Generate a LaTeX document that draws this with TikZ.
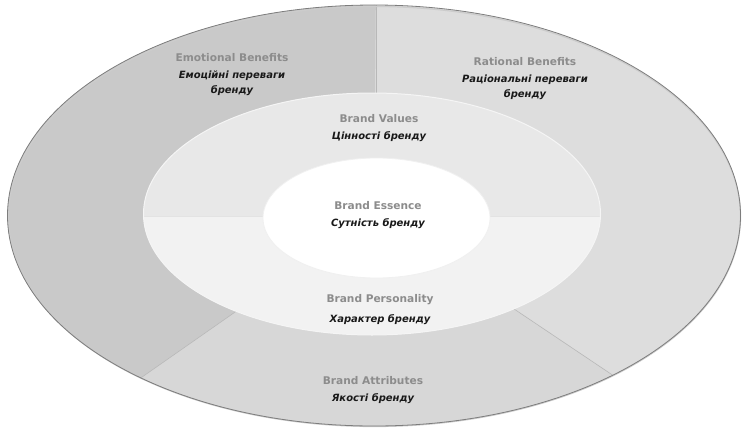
\documentclass[tikz,border=0pt]{standalone}
\usepackage{fontspec}
\setmainfont{DejaVu Sans}[ItalicFont={DejaVu Sans Oblique},BoldItalicFont={DejaVu Sans Bold Oblique}]
\usetikzlibrary{positioning}
\definecolor{emocol}{RGB}{201,201,201}
\definecolor{ratcol}{RGB}{221,221,221}
\definecolor{attcol}{RGB}{215,215,215}
\definecolor{valcol}{RGB}{232,232,232}
\definecolor{percol}{RGB}{242,242,242}
\definecolor{divgray}{RGB}{184,184,184}
\definecolor{rimgray}{RGB}{125,125,125}
\definecolor{titlegray}{RGB}{140,140,140}

\begin{document}
\begin{tikzpicture}[x=1pt,y=-1pt,
  entitle/.style={inner sep=0pt,font=\fontsize{10.6}{12}\selectfont\bfseries,text=titlegray},
  uatext/.style={inner sep=0pt,align=center,font=\fontsize{10}{15}\selectfont\bfseries\itshape,text=black!90},
  divider/.style={draw=divgray,line width=0.6pt}
]
\useasboundingbox (0,0) rectangle (743,428);

% Outer ring: three sectors
\begin{scope}
  \clip (374,215.5) ellipse [x radius=366.5pt, y radius=210.5pt];
  \fill[ratcol] (0,0) rectangle (743,428);
  \fill[emocol] (374,215) -- (376,-20) -- (-40,-20) -- (-64,521) -- cycle;
  \fill[attcol] (374,215) -- (-64,521) -- (830,521) -- cycle;
  \draw[divider] (374,215) -- (-64,521);
  \draw[divider] (374,215) -- (830,521);
  \draw[divider] (376,215) -- (376,-20);
\end{scope}
\draw[gray!40,line width=1.2pt] (374.5,216.5) ellipse [x radius=366pt, y radius=210pt];
\draw[rimgray,line width=0.8pt] (374,215.5) ellipse [x radius=366.5pt, y radius=210.5pt];

% Middle ring: values on top, personality below
\begin{scope}
  \clip (372,214) ellipse [x radius=228.5pt, y radius=121pt];
  \fill[valcol] (0,0) rectangle (743,217);
  \fill[percol] (0,217) rectangle (743,428);
  \draw[gray!22,line width=0.6pt] (0,216.5) -- (743,216.5);
\end{scope}
\draw[gray!8,line width=1pt] (372,214) ellipse [x radius=228.5pt, y radius=121pt];

% Core
\fill[white,draw=gray!12,line width=0.8pt] (376.5,218) ellipse [x radius=113.5pt, y radius=60pt];

% Labels
\node[entitle] (emo) at (232,58) {Emotional Benefits};
\node[uatext,below=8.5pt of emo] (emoua) {Емоційні переваги\\бренду};

\node[entitle] (rat) at (525,62) {Rational Benefits};
\node[uatext,below=8.5pt of rat] (ratua) {Раціональні переваги\\бренду};

\node[entitle] (val) at (379,119) {Brand Values};
\node[uatext,below=8.5pt of val] (valua) {Цінності бренду};

\node[entitle] (ess) at (378,206) {Brand Essence};
\node[uatext,below=8.5pt of ess] (essua) {Сутність бренду};

\node[entitle] (per) at (380,300) {Brand Personality};
\node[uatext,below=8.5pt of per] (perua) {Характер бренду};

\node[entitle] (att) at (373,381) {Brand Attributes};
\node[uatext,below=8.5pt of att] (attua) {Якості бренду};
\end{tikzpicture}
\end{document}
